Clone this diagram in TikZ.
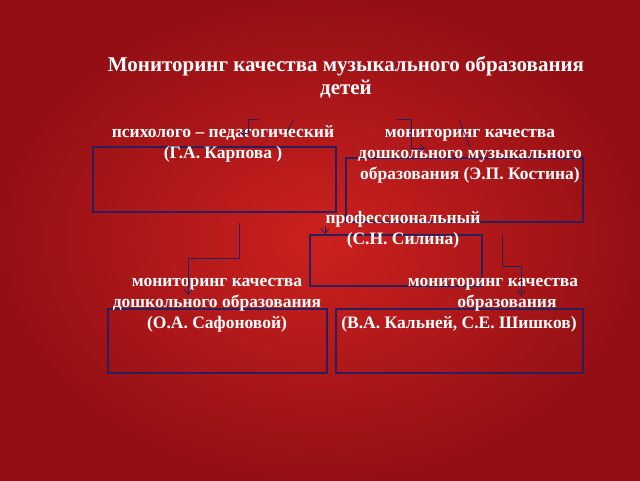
\documentclass[tikz,border=0pt]{standalone}
\usepackage{fontspec}
\setmainfont{Liberation Serif}
\usetikzlibrary{arrows.meta}
\definecolor{bgcenter}{rgb}{0.80,0.13,0.12}
\definecolor{bgedge}{rgb}{0.58,0.06,0.08}
\definecolor{framecolor}{rgb}{0.16,0.12,0.36}
\tikzset{
  framebox/.style={draw=framecolor, line width=1.2pt},
  label/.style={text=white, font=\bfseries\fontsize{17.5}{21}\selectfont, align=center, inner sep=0pt},
  link/.style={draw=framecolor, line width=0.8pt},
  linkarrow/.style={link, -{Straight Barb[length=5pt,width=8pt]}}
}
\begin{document}
\begin{tikzpicture}[x=1pt,y=-1pt]
\useasboundingbox (0,0) rectangle (640,480);
\shade[inner color=bgcenter, outer color=bgedge] (0,0) rectangle (640,480);
% title
\node[label, font=\bfseries\fontsize{21}{23}\selectfont] (title) at (346,77)
  {Мониторинг качества музыкального образования\\детей};
% frames
\draw[framebox] (93,147) rectangle (336,212);
\draw[framebox] (346,158) rectangle (583,222);
\draw[framebox] (310,235) rectangle (482,286);
\draw[framebox] (108,309) rectangle (327,373);
\draw[framebox] (336,309) rectangle (583,373);
% labels
\node[label] (karpova) at (223,144) {психолого – педагогический\\(Г.А. Карпова )};
\node[label] (kostina) at (470,156) {мониторинг качества\\дошкольного музыкального\\образования (Э.П. Костина)};
\node[label] (silina) at (403,230) {профессиональный\\(С.Н. Силина)};
\node[label] (safonova) at (217,305) {мониторинг качества\\дошкольного образования\\(О.А. Сафоновой)};
\node[label] (kalney) at (459,305) {\hspace*{68pt}мониторинг качества\\\hspace*{96pt}образования\\(В.А. Кальней, С.Е. Шишков)};
% connectors
\coordinate (a1) at (259,119); \coordinate (a2) at (240,133);
\draw[linkarrow] (a1) -| (248,133) -- (a2);
\draw[link] (294,119) -- (287,132);
\coordinate (b1) at (396,119); \coordinate (b2) at (425,148);
\draw[linkarrow] (b1) -| (411,148) -- (b2);
\draw[link] (459,120) -- (470,147);
\coordinate (c1) at (239,223); \coordinate (c2) at (188,295);
\draw[linkarrow] (c1) -- (239,258) -| (c2);
\coordinate (d1) at (325,226); \coordinate (d2) at (325,234);
\draw[linkarrow] (d1) -- (d2);
\coordinate (e1) at (502,234); \coordinate (e2) at (521,296);
\draw[linkarrow] (e1) -- (502,266) -| (e2);
\end{tikzpicture}
\end{document}
